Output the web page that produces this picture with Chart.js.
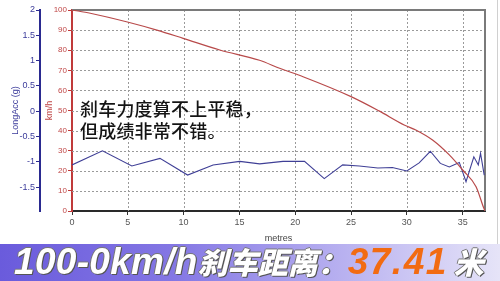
<!DOCTYPE html>
<html>
<head>
<meta charset="utf-8">
<script src="https://cdn.jsdelivr.net/npm/chart.js@4"></script>
<style>
  html, body { margin: 0; padding: 0; background: #fff; }
  #wrap { position: relative; width: 500px; height: 281px; overflow: hidden; background: #fff; }
  #cv { position: absolute; left: 0; top: 0; }
  #edge { position: absolute; left: 497px; top: 0; width: 1px; height: 244px; background: #d0d0d0; }
  #note { position: absolute; left: 80px; top: 97px; font: 500 18px/22px "Noto Sans CJK SC", sans-serif; color: #141414;
          text-shadow: 0 0 2px #fff, 0 0 2px #fff, 0 0 3px #fff; white-space: nowrap; letter-spacing: 0.2px; }
  #banner { position: absolute; left: 0; top: 244px; width: 500px; height: 37px;
            background: linear-gradient(90deg, #6a5bdc 0%, #8477e4 35%, #b3abef 65%, #e6e4f8 100%); }
  #btxt { position: absolute; left: 14px; top: -1px; white-space: nowrap; font-style: italic; font-weight: bold; line-height: 37px;
          color: #fff; text-shadow: 1px 1px 0 #555, -1px 0 0 #777, 0 -1px 0 #777, 1px 0 0 #666; }
  .num { font-family: "Liberation Sans", Arial, sans-serif; font-size: 37px; letter-spacing: 0.3px; }
  .cjk { font-family: "Noto Sans CJK SC", sans-serif; font-size: 30px; font-weight: 900; }
  .org { color: #f26b12; text-shadow: none; letter-spacing: 1.5px; }
  .mi { margin-left: 6px; }
</style>
</head>
<body>
<div id="wrap">
  <canvas id="cv" width="500" height="244"></canvas>
  <div id="edge"></div>
  <div id="note">刹车力度算不上平稳，<br>但成绩非常不错。</div>
  <div id="banner"><div id="btxt"><span class="num">100-0km/h</span><span class="cjk">刹车距离：</span><span class="num org">37.41</span><span class="cjk mi">米</span></div></div>
</div>
<script>
// distance (metres) and speed (km/h) for the red speed trace
const speedDist = [0, 1.64, 5.05, 7.6, 9.96, 13.24, 16.8, 18.6, 20.7, 25.0, 27.5, 29.76, 30.8, 32.3, 33.8, 35.0, 36.2, 36.9, 37.0];
const speedKmh  = [100, 98.4, 93.9, 90, 85.9, 80.1, 75, 71, 66.8, 56.9, 49.8, 42.8, 40.3, 35.3, 27.9, 20.4, 12.1, 1.3, 0];

// distance (metres) and longitudinal acceleration (g) for the blue trace
const accDist = [0, 2.73, 5.36, 7.88, 10.36, 12.64, 15.03, 16.81, 18.9, 20.83, 22.6, 24.25, 25.74, 27.4, 28.7, 30.0, 31.1, 32.1, 33.0, 33.8, 34.7, 35.3, 36.0, 36.4, 36.6, 36.93];
const accG    = [-1.06, -0.78, -1.08, -0.93, -1.26, -1.06, -0.99, -1.04, -0.99, -0.99, -1.33, -1.06, -1.08, -1.12, -1.11, -1.18, -1.02, -0.79, -1.03, -1.10, -1.01, -1.39, -0.90, -1.06, -0.83, -1.26];

// tick labels
const xTicks   = [0, 5, 10, 15, 20, 25, 30, 35];
const kmhTicks = [0, 10, 20, 30, 40, 50, 60, 70, 80, 90, 100];
const gTicks   = [-1.5, -1, -0.5, 0, 0.5, 1, 1.5, 2];

// dotted grid + dark frame, positioned through the chart's own scales
const frame = {
  id: 'frame',
  beforeDatasetsDraw(chart) {
    const a = chart.chartArea, c = chart.ctx;
    const sx = chart.scales.x, sy = chart.scales.kmh;
    c.save();
    c.strokeStyle = '#9a9a9a';
    c.lineWidth = 1;
    c.setLineDash([2, 2]);
    c.beginPath();
    xTicks.forEach(v => {
      if (v === 0) return;
      const px = Math.round(sx.getPixelForValue(v)) + 0.5;
      c.moveTo(px, a.top); c.lineTo(px, a.bottom);
    });
    kmhTicks.forEach(v => {
      if (v === 0 || v === 100) return;
      const py = Math.round(sy.getPixelForValue(v)) + 0.5;
      c.moveTo(a.left, py); c.lineTo(a.right, py);
    });
    c.stroke();
    c.setLineDash([]);
    c.strokeStyle = '#7a7a7a';
    c.lineWidth = 2;
    c.beginPath();
    c.moveTo(a.left, a.top);
    c.lineTo(a.right, a.top);
    c.lineTo(a.right, a.bottom);
    c.stroke();
    c.restore();
  }
};

new Chart(document.getElementById('cv'), {
  type: 'line',
  data: {
    datasets: [
      {
        label: 'km/h',
        data: speedDist.map((d, i) => ({ x: d, y: speedKmh[i] })),
        yAxisID: 'kmh',
        borderColor: '#b84a4a',
        borderWidth: 1.2,
        pointRadius: 0,
        cubicInterpolationMode: 'monotone',
        fill: false
      },
      {
        label: 'LongAcc (g)',
        data: accDist.map((d, i) => ({ x: d, y: accG[i] })),
        yAxisID: 'g',
        borderColor: '#3f3f96',
        borderWidth: 1.1,
        pointRadius: 0,
        tension: 0,
        fill: false
      }
    ]
  },
  options: {
    responsive: false,
    animation: false,
    events: [],
    layout: { padding: { top: 10, right: 15, left: 0, bottom: 0 } },
    plugins: { legend: { display: false }, tooltip: { enabled: false } },
    scales: {
      x: {
        type: 'linear',
        min: 0, max: 37,
        afterBuildTicks: s => { s.ticks = xTicks.map(v => ({ value: v })); },
        afterFit: s => { s.height = 33; },
        ticks: { color: '#555', font: { family: 'Liberation Sans, Arial', size: 9 }, padding: 2, maxRotation: 0, callback: v => String(v) },
        grid: { drawOnChartArea: false, tickColor: '#333', tickLength: 4 },
        border: { color: '#2a2a2a', width: 2 },
        title: { display: true, text: 'metres', color: '#444', font: { family: 'Liberation Sans, Arial', size: 9 }, padding: { top: 0, bottom: 0 } }
      },
      g: {
        type: 'linear',
        position: 'left',
        weight: 2,
        min: -1.97, max: 2,
        afterBuildTicks: s => { s.ticks = gTicks.map(v => ({ value: v })); },
        afterFit: s => { s.width = 40; },
        ticks: { color: '#3a3a9a', font: { family: 'Liberation Sans, Arial', size: 9 }, padding: 1, callback: v => String(v) },
        grid: { drawOnChartArea: false, tickColor: '#2a2a90', tickLength: 4 },
        border: { color: '#2a2a90', width: 2 },
        title: { display: true, text: 'LongAcc (g)', color: '#3a3a9a', font: { family: 'Liberation Sans, Arial', size: 9 }, padding: { top: 10, bottom: 0 } }
      },
      kmh: {
        type: 'linear',
        position: 'left',
        weight: 1,
        min: 0, max: 100,
        afterBuildTicks: s => { s.ticks = kmhTicks.map(v => ({ value: v })); },
        afterFit: s => { s.width = 32; },
        ticks: { color: '#c04848', font: { family: 'Liberation Sans, Arial', size: 8 }, padding: 1, callback: v => String(v) },
        grid: { drawOnChartArea: false, tickColor: '#c03a3a', tickLength: 4 },
        border: { color: '#c03a3a', width: 2 },
        title: { display: true, text: 'km/h', color: '#c04848', font: { family: 'Liberation Sans, Arial', size: 9 }, padding: { top: 4, bottom: 0 } }
      }
    }
  },
  plugins: [frame]
});
</script>
</body>
</html>
